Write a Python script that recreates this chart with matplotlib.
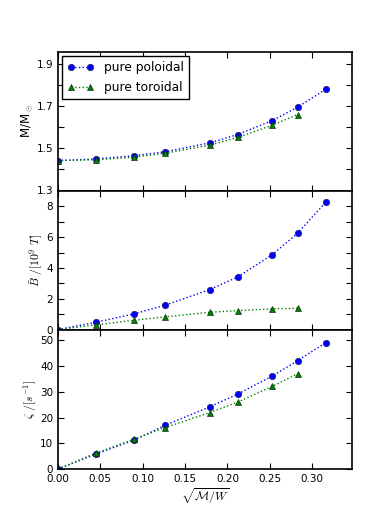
import numpy as np
import matplotlib
matplotlib.use("Agg")
import matplotlib.pyplot as plt

# x = sqrt(M/W)
x_pol = np.sqrt([0.0, 0.002, 0.008, 0.016, 0.032, 0.045, 0.064, 0.08, 0.1])
x_tor = np.sqrt([0.0, 0.002, 0.008, 0.016, 0.032, 0.045, 0.064, 0.08])

mass_pol = [1.442, 1.450, 1.465, 1.484, 1.526, 1.566, 1.632, 1.696, 1.781]
mass_tor = [1.442, 1.446, 1.458, 1.477, 1.515, 1.552, 1.610, 1.661]

b_pol = [0.0, 0.47, 1.01, 1.58, 2.59, 3.41, 4.86, 6.25, 8.28]
b_tor = [0.0, 0.30, 0.60, 0.82, 1.12, 1.23, 1.34, 1.38]

zeta_pol = [0.0, 5.8, 11.2, 17.0, 24.1, 29.1, 36.1, 42.1, 49.1]
zeta_tor = [0.0, 6.2, 11.5, 16.1, 21.9, 26.0, 32.1, 37.0]

plt.rcParams.update({
    "font.size": 7.5,
    "axes.labelsize": 8.5,
    "mathtext.fontset": "cm",
    "xtick.direction": "in",
    "ytick.direction": "in",
    "xtick.top": True,
    "ytick.right": True,
    "xtick.major.size": 4,
    "ytick.major.size": 4,
})

fig = plt.figure(figsize=(3.9, 5.21), dpi=100)
left, width = 58 / 390, (351.5 - 58) / 390
tops = [52, 190.5, 329.5, 469]
axes = []
for i in range(3):
    y0 = 1 - tops[i + 1] / 521
    h = (tops[i + 1] - tops[i]) / 521
    axes.append(fig.add_axes([left, y0, width, h]))

series = [
    (mass_pol, mass_tor, (1.3, 1.958), np.arange(1.3, 1.95, 0.1), 2, "%.1f",
     r"M/M$_\odot$"),
    (b_pol, b_tor, (0, 9.03), np.arange(0, 9, 1), 2, "%d",
     r"$\bar{B}\ /[10^9\ T]$"),
    (zeta_pol, zeta_tor, (0, 54.2), np.arange(0, 51, 10), 1, "%d",
     r"$\zeta\ /[s^{-1}]$"),
]

for ax, (pol, tor, ylim, ticks, every, fmt, lab) in zip(axes, series):
    ax.plot(x_pol, pol, ":", color="b", lw=1, marker="o", ms=4.6,
            mfc="b", mec="#202060", mew=0.5, label="pure poloidal")
    ax.plot(x_tor, tor, ":", color="g", lw=1, marker="^", ms=4.6,
            mfc="g", mec="#103010", mew=0.5, label="pure toroidal")
    ax.set_xlim(0, 0.3465)
    ax.set_ylim(*ylim)
    ax.set_yticks(ticks)
    ax.set_yticklabels([fmt % t if k % every == 0 else ""
                        for k, t in enumerate(ticks)])
    ax.set_xticks(np.arange(0, 0.34, 0.05))
    ax.set_ylabel(lab, labelpad=1)
    for s in ax.spines.values():
        s.set_linewidth(1.2)
    if ax is not axes[-1]:
        ax.tick_params(labelbottom=False)

axes[-1].set_xticklabels(["%.2f" % t for t in np.arange(0, 0.34, 0.05)])
axes[-1].set_xlabel(r"$\sqrt{\mathcal{M}/W}$", labelpad=2)

axes[0].legend(loc="upper left", numpoints=2, fontsize=8.8, fancybox=False,
               framealpha=1, edgecolor="k", borderaxespad=0.3,
               handlelength=2.2, labelspacing=0.55, borderpad=0.45)

fig.savefig("out.png", dpi=100)
